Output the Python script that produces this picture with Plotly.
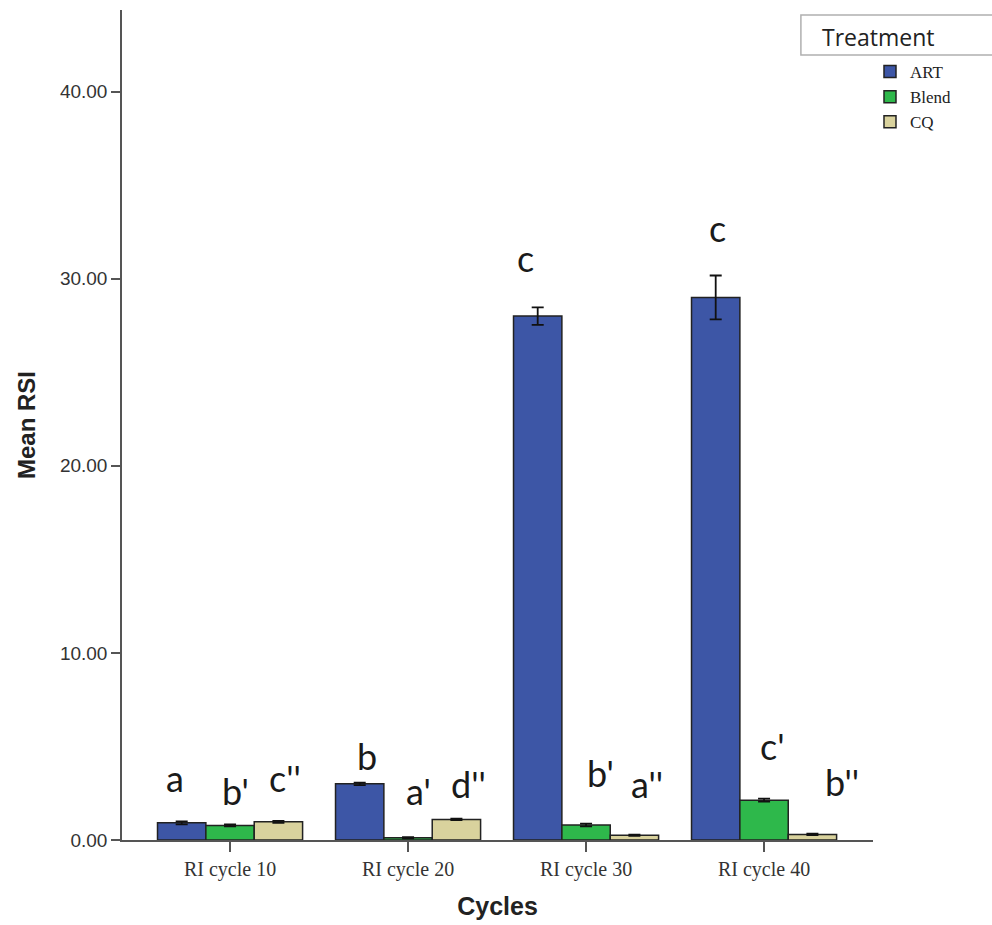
import plotly.graph_objects as go

categories = ["RI cycle 10", "RI cycle 20", "RI cycle 30", "RI cycle 40"]
art = [0.92, 3.0, 28.0, 29.0]
art_err = [0.08, 0.07, 0.47, 1.17]
blend = [0.78, 0.12, 0.80, 2.13]
blend_err = [0.05, 0.03, 0.07, 0.08]
cq = [0.97, 1.10, 0.25, 0.30]
cq_err = [0.05, 0.04, 0.03, 0.04]
y_ticks = [0, 10, 20, 30, 40]

# significance letters: (text, x position in category units, y value)
letters = ["a", "b'", "c''", "b", "a'", "d''", "c", "b'", "a''", "c", "c'", "b''"]
letter_x = [-0.31, 0.03, 0.31, 0.77, 1.06, 1.34, 1.66, 2.08, 2.34, 2.74, 3.05, 3.44]
letter_y = [3.3, 2.6, 3.3, 4.5, 2.6, 3.0, 31.1, 3.6, 3.0, 32.7, 5.0, 3.1]

series = [
    ("ART", art, art_err, "#3D56A6"),
    ("Blend", blend, blend_err, "#2EB84B"),
    ("CQ", cq, cq_err, "#D9D29D"),
]

fig = go.Figure()
for name, vals, errs, col in series:
    fig.add_trace(go.Bar(
        name=name, x=categories, y=vals,
        marker=dict(color=col, line=dict(color="#222222", width=1.5)),
        error_y=dict(type="data", array=errs, visible=True,
                     color="#111111", thickness=1.8, width=6),
    ))

for t, xv, yv in zip(letters, letter_x, letter_y):
    fig.add_annotation(x=xv, y=yv, xref="x", yref="y", text=t, showarrow=False,
                       font=dict(family="Lato", size=36, color="#1a1a1a"))

# Legend title box
fig.add_shape(type="rect", xref="paper", yref="paper",
              x0=0.904, x1=1.17, y0=0.9457, y1=0.994,
              line=dict(color="#b0b0b0", width=1.5), fillcolor="white")
fig.add_annotation(xref="paper", yref="paper", x=0.929, y=0.968, xanchor="left",
                   yanchor="middle", text="Treatment", showarrow=False,
                   font=dict(family="Open Sans", size=23, color="#222222"))

fig.update_layout(
    width=992, height=925,
    margin=dict(l=122, r=119, t=10, b=85),
    plot_bgcolor="white", paper_bgcolor="white",
    barmode="group", bargap=0.185, bargroupgap=0,
    showlegend=True,
    legend=dict(x=0.996, y=0.947, xanchor="left", yanchor="top",
                font=dict(family="Liberation Serif", size=17, color="#222222"),
                bgcolor="rgba(0,0,0,0)", tracegroupgap=0, itemclick=False),
    xaxis=dict(
        range=[-0.607, 3.612], showline=True, linecolor="#555555", linewidth=1.5,
        ticks="outside", ticklen=10, tickcolor="#555555", tickwidth=1.5,
        tickfont=dict(family="Liberation Serif", size=20, color="#333333"),
        title=dict(text="<b>Cycles</b>", standoff=18,
                   font=dict(family="Liberation Sans", size=25, color="#222222")),
        showgrid=False, zeroline=False,
    ),
    yaxis=dict(
        range=[0, 44.36], tickvals=y_ticks, tickformat=".2f",
        showline=True, linecolor="#555555", linewidth=1.5,
        ticks="outside", ticklen=9, tickcolor="#555555", tickwidth=1.5,
        tickfont=dict(family="Liberation Sans", size=19, color="#333333"),
        title=dict(text="<b>Mean RSI</b>", standoff=18,
                   font=dict(family="Liberation Sans", size=24, color="#222222")),
        showgrid=False, zeroline=False,
    ),
)

fig.write_html("out.html")
